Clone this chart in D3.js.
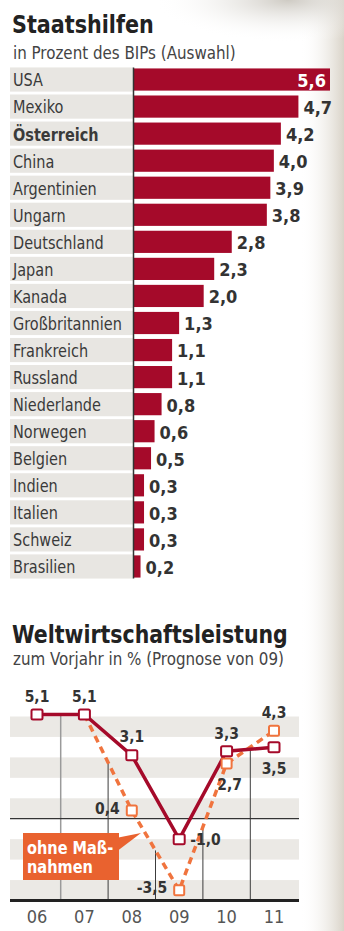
<!DOCTYPE html>
<html>
<head>
<meta charset="utf-8">
<script src="https://cdnjs.cloudflare.com/ajax/libs/d3/7.8.5/d3.min.js"></script>
<style>
    body { margin: 0; background: #fff; }
    svg { display: block; }
    text { font-family: "DejaVu Sans Condensed", "Liberation Sans Narrow", sans-serif; }
</style>
</head>
<body>
<script>
//Staatshilfen data
var countries = ["USA","Mexiko","Österreich","China","Argentinien","Ungarn","Deutschland","Japan","Kanada","Großbritannien","Frankreich","Russland","Niederlande","Norwegen","Belgien","Indien","Italien","Schweiz","Brasilien"];
var aidValues = [5.6,4.7,4.2,4.0,3.9,3.8,2.8,2.3,2.0,1.3,1.1,1.1,0.8,0.6,0.5,0.3,0.3,0.3,0.2];

//Weltwirtschaftsleistung data
var years = ["06","07","08","09","10","11"];
var withAid = [5.1,5.1,3.1,-1.0,3.3,3.5];
var withoutAid = [null,5.1,0.4,-3.5,2.7,4.3];
var stripeBands = [[4,5],[2,3],[0,1],[-2,-1],[-4,-3]];

var width = 344,
    height = 931,
    red = "#a50a2a",
    orange = "#f0743e";

//german number format with short hyphen
var fmt = function(v){ return d3.format(".1f")(v).replace(".", ",").replace("\u2212", "-"); };

//squeeze text horizontally, x is given in page pixels
function squeeze(sel, sx, xFn){
    sel.attr("transform", "scale(" + sx + ",1)")
        .attr("x", function(d, i){ return (typeof xFn == "function" ? xFn(d, i) : xFn) / sx; });
    return sel;
}

var svg = d3.select("body")
    .append("svg")
    .attr("width", width)
    .attr("height", height);

//paper shading on the right edge
var defs = svg.append("defs");
var shade = defs.append("linearGradient")
    .attr("id", "shade")
    .attr("x1", "0").attr("x2", "1").attr("y1", "0").attr("y2", "0");
shade.append("stop").attr("offset", "0").attr("stop-color", "#fff").attr("stop-opacity", 0);
shade.append("stop").attr("offset", "1").attr("stop-color", "#d9d3c8").attr("stop-opacity", 1);
var topShade = defs.append("radialGradient")
    .attr("id", "topShade")
    .attr("cx", "0.75").attr("cy", "0").attr("r", "0.6");
topShade.append("stop").attr("offset", "0").attr("stop-color", "#c9c5bd").attr("stop-opacity", 0.9);
topShade.append("stop").attr("offset", "1").attr("stop-color", "#fff").attr("stop-opacity", 0);

svg.append("rect").attr("x", 300).attr("y", 0).attr("width", 44).attr("height", height).attr("fill", "url(#shade)");
svg.append("rect").attr("x", 120).attr("y", 0).attr("width", 224).attr("height", 70).attr("fill", "url(#topShade)");

setBarChart();
setLineChart();

//Bar chart
function setBarChart(){
    squeeze(svg.append("text"), 0.94, 12)
        .attr("y", 33)
        .attr("font-size", 24.5)
        .attr("font-weight", "bold")
        .attr("fill", "#222")
        .text("Staatshilfen");

    svg.append("text")
        .attr("x", 13)
        .attr("y", 59)
        .attr("font-size", 16.8)
        .attr("fill", "#444")
        .text("in Prozent des BIPs (Auswahl)");

    var x = d3.scaleLinear()
        .domain([0, 5.6])
        .range([133.5, 330]);

    var y = d3.scaleBand()
        .domain(countries)
        .range([66, 580])
        .paddingInner(0.18)
        .paddingOuter(0.09);

    var rows = svg.selectAll(".row")
        .data(countries)
        .enter()
        .append("g")
        .attr("class", "row");

    //gray label background
    rows.append("rect")
        .attr("x", 10)
        .attr("y", function(d){ return y(d) - 1; })
        .attr("width", 123)
        .attr("height", y.bandwidth() + 2)
        .attr("fill", "#e8e6e2");

    squeeze(rows.append("text"), 0.92, 13)
        .attr("y", function(d){ return y(d) + 18; })
        .attr("font-size", 17.5)
        .attr("font-weight", function(d){ return d == "Österreich" ? "bold" : "normal"; })
        .attr("fill", "#3a3a3a")
        .text(function(d){ return d; });

    rows.append("rect")
        .attr("x", x(0))
        .attr("y", function(d){ return y(d); })
        .attr("width", function(d, i){ return x(aidValues[i]) - x(0); })
        .attr("height", y.bandwidth())
        .attr("fill", red);

    rows.append("text")
        .attr("x", function(d, i){ return i == 0 ? x(aidValues[i]) - 4 : x(aidValues[i]) + 5; })
        .attr("y", function(d){ return y(d) + 18.5; })
        .attr("text-anchor", function(d, i){ return i == 0 ? "end" : "start"; })
        .attr("font-size", 18)
        .attr("font-weight", "bold")
        .attr("fill", function(d, i){ return i == 0 ? "#fff" : "#333"; })
        .text(function(d, i){ return fmt(aidValues[i]); });

    //axis line
    svg.append("line")
        .attr("x1", x(0))
        .attr("x2", x(0))
        .attr("y1", y(countries[0]) - 1)
        .attr("y2", y(countries[countries.length - 1]) + y.bandwidth() + 1)
        .attr("stroke", "#333")
        .attr("stroke-width", 1.5);
}

//Line chart
function setLineChart(){
    squeeze(svg.append("text"), 0.93, 12)
        .attr("y", 643)
        .attr("font-size", 24.5)
        .attr("font-weight", "bold")
        .attr("fill", "#222")
        .text("Weltwirtschaftsleistung");

    svg.append("text")
        .attr("x", 13)
        .attr("y", 665)
        .attr("font-size", 16.8)
        .attr("fill", "#444")
        .text("zum Vorjahr in % (Prognose von 09)");

    var left = 10, right = 299;

    var x = d3.scalePoint()
        .domain(years)
        .range([37, 274]);

    var y = d3.scaleLinear()
        .domain([-4, 5])
        .range([900.5, 716.5]);

    //stripes
    svg.selectAll(".stripe")
        .data(stripeBands)
        .enter()
        .append("rect")
        .attr("class", "stripe")
        .attr("x", left)
        .attr("width", right - left)
        .attr("y", function(d){ return y(d[1]); })
        .attr("height", function(d){ return y(d[0]) - y(d[1]); })
        .attr("fill", "#ebe9e5");

    //vertical separators between years, dropping from the lower line
    var seps = d3.pairs(years.map(function(yr, i){ return i; })).map(function(p){
        var vals = [withAid[p[0]] + withAid[p[1]]];
        if (withoutAid[p[0]] != null && withoutAid[p[1]] != null) vals.push(withoutAid[p[0]] + withoutAid[p[1]]);
        return { x: (x(years[p[0]]) + x(years[p[1]])) / 2, v: d3.min(vals) / 2, first: p[0] == 0 };
    });

    svg.selectAll(".sep")
        .data(seps)
        .enter()
        .append("line")
        .attr("class", "sep")
        .attr("x1", function(d){ return d.x; })
        .attr("x2", function(d){ return d.x; })
        .attr("y1", function(d){ return y(d.v); })
        .attr("y2", y(-4))
        .attr("stroke", function(d){ return d.first ? "#9a9a9a" : "#3c3c3c"; })
        .attr("stroke-width", function(d){ return d.first ? 1.5 : 1; });

    //zero line and base line
    svg.append("line")
        .attr("x1", left).attr("x2", right)
        .attr("y1", y(0)).attr("y2", y(0))
        .attr("stroke", "#333")
        .attr("stroke-width", 1.3);

    svg.append("line")
        .attr("x1", left).attr("x2", right)
        .attr("y1", y(-4)).attr("y2", y(-4))
        .attr("stroke", "#222")
        .attr("stroke-width", 3);

    //year labels
    svg.selectAll(".year")
        .data(years)
        .enter()
        .append("text")
        .attr("class", "year")
        .attr("x", function(d){ return x(d); })
        .attr("y", 923)
        .attr("text-anchor", "middle")
        .attr("font-size", 18)
        .attr("fill", "#555")
        .text(function(d){ return d; });

    var line = d3.line()
        .defined(function(d){ return d.v != null; })
        .x(function(d){ return x(d.year); })
        .y(function(d){ return y(d.v); });

    var redData = years.map(function(yr, i){ return { year: yr, v: withAid[i] }; });
    var orangeData = years.map(function(yr, i){ return { year: yr, v: withoutAid[i] }; });

    svg.append("path")
        .datum(orangeData)
        .attr("d", line)
        .attr("fill", "none")
        .attr("stroke", orange)
        .attr("stroke-width", 3.5)
        .attr("stroke-dasharray", "7,5");

    svg.append("path")
        .datum(redData)
        .attr("d", line)
        .attr("fill", "none")
        .attr("stroke", red)
        .attr("stroke-width", 3.5);

    //markers
    svg.selectAll(".oMark")
        .data(orangeData.filter(function(d, i){ return d.v != null && i > 1; }))
        .enter()
        .append("rect")
        .attr("class", "oMark")
        .attr("x", function(d){ return x(d.year) - 5; })
        .attr("y", function(d){ return y(d.v) - 5; })
        .attr("width", 10)
        .attr("height", 10)
        .attr("rx", 1.5)
        .attr("fill", "#fff")
        .attr("stroke", orange)
        .attr("stroke-width", 2);

    svg.selectAll(".rMark")
        .data(redData)
        .enter()
        .append("rect")
        .attr("class", "rMark")
        .attr("x", function(d){ return x(d.year) - 5.5; })
        .attr("y", function(d){ return y(d.v) - 5; })
        .attr("width", 11)
        .attr("height", 10)
        .attr("rx", 1.5)
        .attr("fill", "#fff")
        .attr("stroke", red)
        .attr("stroke-width", 2);

    //value label offsets: [dx, dy, anchor]
    var redOffsets = [[0,-12,"middle"],[0,-12,"middle"],[0,-13,"middle"],[11,6,"start"],[0,-12,"middle"],[0,27,"middle"]];
    var orangeOffsets = [null,null,[-12,3,"end"],[-12,3,"end"],[3,26,"middle"],[0,-13,"middle"]];

    var labels = [];
    years.forEach(function(yr, i){
        labels.push({ year: yr, v: withAid[i], o: redOffsets[i] });
        if (orangeOffsets[i]) labels.push({ year: yr, v: withoutAid[i], o: orangeOffsets[i] });
    });

    svg.selectAll(".vLabel")
        .data(labels)
        .enter()
        .append("text")
        .attr("class", "vLabel")
        .attr("x", function(d){ return x(d.year) + d.o[0]; })
        .attr("y", function(d){ return y(d.v) + d.o[1]; })
        .attr("text-anchor", function(d){ return d.o[2]; })
        .attr("font-size", 15.5)
        .attr("font-weight", "bold")
        .attr("fill", "#333")
        .text(function(d){ return fmt(d.v); });

    //annotation box
    var note = svg.append("g");
    note.append("path")
        .attr("d", "M116,838 L141,833 L116,852 Z")
        .attr("fill", "#e9622f");
    note.append("rect")
        .attr("x", 23)
        .attr("y", 833)
        .attr("width", 96)
        .attr("height", 47)
        .attr("fill", "#e9622f");
    squeeze(note.append("text"), 0.95, 27)
        .attr("y", 854)
        .attr("font-size", 17)
        .attr("font-weight", "bold")
        .attr("fill", "#fff")
        .text("ohne Maß-");
    squeeze(note.append("text"), 0.95, 27)
        .attr("y", 873)
        .attr("font-size", 17)
        .attr("font-weight", "bold")
        .attr("fill", "#fff")
        .text("nahmen");
}
</script>
</body>
</html>
